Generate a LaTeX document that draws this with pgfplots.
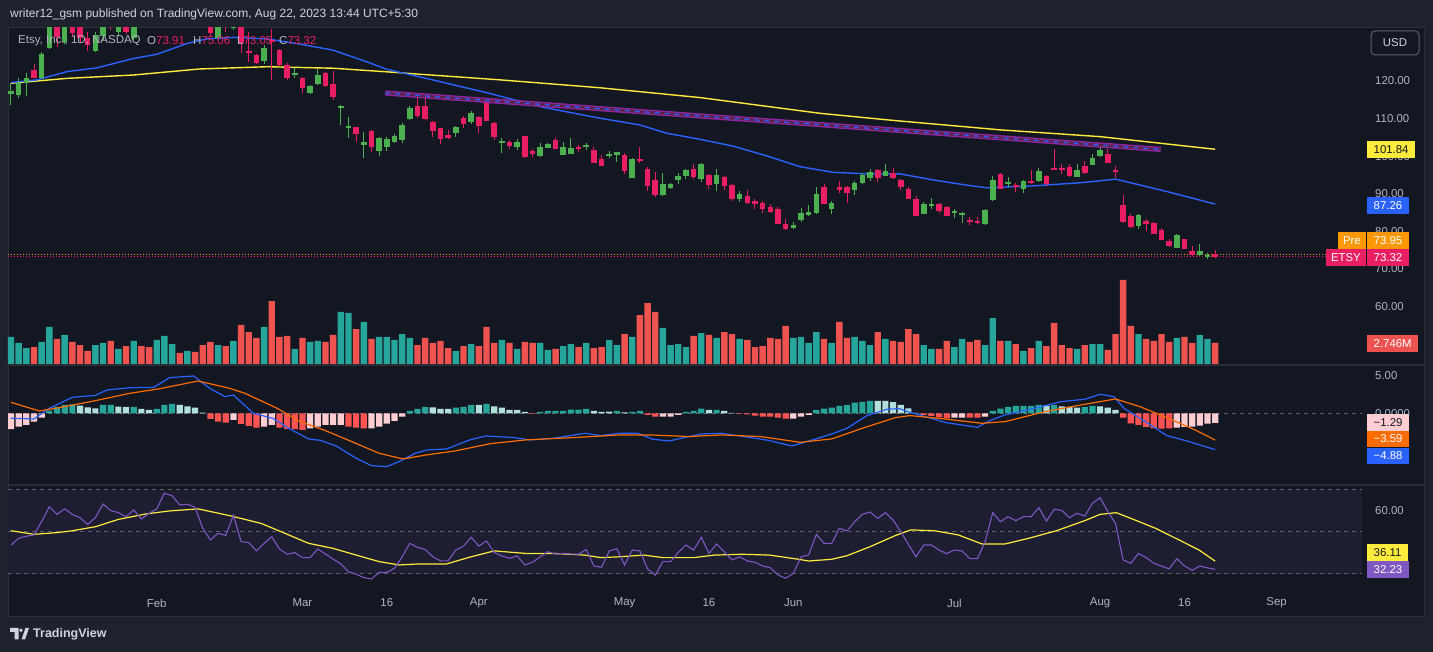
\documentclass[border=0pt]{standalone}
\usepackage{fontspec}
\setmainfont{Liberation Sans}
\usepackage{pgfplots}
\usepackage{pgfplotstable}
\pgfplotsset{compat=1.18}
\definecolor{bgout}{HTML}{1E222D}
\definecolor{bgin}{HTML}{131722}
\definecolor{sepc}{HTML}{2A2E39}
\definecolor{txt}{HTML}{B2B5BE}
\definecolor{head}{HTML}{D1D4DC}
\definecolor{cup}{HTML}{4CAF50}
\definecolor{cdn}{HTML}{E91E63}
\definecolor{vup}{HTML}{26A69A}
\definecolor{vdn}{HTML}{EF5350}
\definecolor{hup}{HTML}{26A69A}
\definecolor{hupl}{HTML}{B2DFDB}
\definecolor{hdn}{HTML}{FF5252}
\definecolor{hdnl}{HTML}{FFCDD2}
\definecolor{mline}{HTML}{2962FF}
\definecolor{sline}{HTML}{FF6D00}
\definecolor{rsil}{HTML}{7E57C2}
\definecolor{yel}{HTML}{FFEB3B}
\definecolor{band}{HTML}{1E1E32}
\definecolor{dashc}{HTML}{5D606B}
\definecolor{prec}{HTML}{FF9800}
\definecolor{trendp}{HTML}{9C27B0}
\definecolor{trendm}{HTML}{5B2340}
\newcommand{\tvf}{\fontsize{11.4}{13}\selectfont}

\pgfplotstableread{
x o h l c v
0 116.5 119.4 113.6 117.3 3.53
1 116.3 120.8 115.5 119.6 2.75
2 119.4 122.1 116.1 120.9 2.09
4 120.9 127.8 120.5 127.2 2.88
5 128.7 137 128.5 135 4.84
7 130.5 137 129.8 136 3.79
11 128 133 127.8 132.2 2.48
12 132 137 131 135 2.75
14 133 137 132 136 1.96
16 131.5 138 131 137 3.01
19 138 142 137.5 141 3.14
20 141 147 140 146 3.66
21 145 148 144 147 2.61
23 145 147.5 144 146.5 1.70
27 131.4 136 130.8 135 2.48
29 134 136 133.5 135.5 3.01
33 125.3 129.6 124.5 128.9 4.84
37 121.6 123.5 120.7 122 1.96
39 116.9 119 116.5 118.7 2.88
40 119.2 123.2 119 121.6 3.01
43 112.8 113.6 108.3 113.4 6.80
44 107.6 110.5 104.8 108 6.67
46 103 106.5 99.4 103.9 5.49
48 101.4 105 100.1 104.8 3.53
49 102.5 105.2 101.5 104.5 3.53
50 103.9 106 103.5 105.4 3.14
51 104.3 108.9 103.5 108.3 3.92
52 109.9 113.3 109.6 112.9 3.40
58 106.2 108 105.2 107.8 1.70
60 109.1 112 108.5 111.6 2.61
64 103.8 104.8 100.9 104 3.14
66 102.4 104.6 101.7 103.9 1.96
69 100 103.4 99.7 102.5 2.75
70 102.3 103.4 102.2 103.2 1.83
72 100.3 103.7 100.2 102.5 2.35
73 100.6 104.9 100.5 102.3 2.61
75 102.5 103.4 101.6 103 2.75
78 100 101.4 99.6 100.6 3.14
79 100.3 101.2 98.5 101.1 2.48
81 94.3 99.6 94.2 99.3 3.53
85 89.7 95.5 89.5 92.6 4.71
86 91.6 93 91.3 92.6 2.48
87 93.7 95.5 92.6 94.7 2.61
88 94.7 96.6 94 96.3 2.22
90 93.9 98.2 93.2 97.9 4.05
92 92.5 96.6 90.8 95 3.40
95 88.6 90.8 87.9 89.9 3.27
102 80.9 82.5 80.6 81.7 3.40
103 83 86.2 82.5 84.9 3.53
104 84.4 87 84.2 85.2 2.75
105 84.9 91.8 84.7 89.9 4.18
107 86 88 84.6 87.6 2.75
110 91 93.4 89.7 92.9 3.53
111 92.9 95.6 92.6 95 3.01
112 94.2 96.7 93.4 95.8 2.48
114 94.7 97.9 94.6 96.1 3.27
119 84.6 87.8 84.5 87.3 2.48
120 86.8 88.9 86 87.3 1.96
123 85 86 83.6 85.3 2.22
124 84.4 85.2 82.2 84.9 3.27
127 82 85.9 81.6 85.7 2.48
128 88.4 94.7 88.2 93.7 6.01
130 92.6 94.4 91.9 93.1 3.01
132 91.3 93.6 90.2 93.4 1.70
134 93.4 96.9 93.2 96.1 3.01
139 94.5 97.9 94.4 96.3 1.96
141 97.7 100.6 97.6 99.5 2.61
142 100 102.7 99.8 101.6 2.61
147 81.4 84.6 80.6 84.4 3.92
152 75.6 79.3 75.5 79 3.40
155 73.7 76.6 73.5 74.8 3.79
156 73.3 74.2 72.6 73.6 3.27
}\candup

\pgfplotstableread{
x o h l c v
3 122.9 124.4 120.7 120.9 2.22
6 134.5 136 129 131.8 3.27
8 136 137 132 132.7 2.88
9 135 136 130 131.4 2.48
10 131.5 133 128 129.5 1.70
13 137 138 133.5 134.5 3.01
15 138 140 132.5 133 2.35
17 140 141 136 137 2.35
18 139 141 137 138 2.22
22 147 148 145 145.5 1.44
24 146 147 143 143.5 1.57
25 143 144 139 139.5 2.48
26 138 139 132 132.7 2.88
28 135 136 133 134.5 2.35
30 135 135.5 127.4 130 5.10
31 128 133 125.1 127.5 4.18
32 126.9 127.2 124.5 124.8 3.40
34 131 133.8 120.3 130.5 8.23
35 128.2 128.5 124 124.3 3.53
36 124.3 124.8 120.3 120.7 3.66
38 120.9 121.1 116.7 118.2 3.40
41 122.2 122.5 118.5 118.7 2.88
42 119.1 122.7 115 115.8 3.79
45 107.7 107.8 103.9 105.8 4.57
47 106.7 107 101.2 102.5 3.27
53 113.4 115.8 110.1 110.7 2.48
54 113.4 116.3 109.6 109.9 3.40
55 109.2 109.4 105.2 106.8 2.75
56 107.4 107.6 103.2 104.6 3.01
57 105.6 107 104.7 104.9 2.09
59 110.2 110.8 107.5 108.5 2.35
61 110.5 110.8 106.1 108 2.35
62 114.9 115.5 109.3 109.4 4.84
63 108.8 109 104.3 105.2 2.75
65 103.9 104.2 101.9 102.8 2.75
67 105.4 105.5 99.6 99.9 2.88
68 101.5 101.9 99.9 100.6 2.75
71 104.3 104.8 101.8 101.9 1.96
74 102.5 103 101.2 101.9 2.22
76 101.6 102.5 98.2 98.3 2.09
77 99.3 100.3 97.4 97.5 2.22
80 100.3 100.8 95.3 96.1 3.92
82 99.3 102.5 98.1 98.7 6.40
83 96.6 97 90.7 92.1 7.97
84 93.7 95.8 89.2 89.7 6.80
89 96.6 97.9 93.9 94.5 3.66
91 95 95.2 91.3 92.3 3.79
93 94.5 94.8 91 92.1 4.18
94 92.3 92.5 88.1 88.6 3.92
96 89.4 91 87.4 87.6 3.14
97 88.1 88.6 86 87.3 2.22
98 87.6 88 84.9 86 2.35
99 86.5 87.3 84.9 85.2 3.40
100 86 86.5 81.9 82 3.27
101 82 83.3 80.3 80.6 4.97
106 91.8 92.6 87.2 87.3 3.27
108 91.8 93.4 90.2 91 5.49
109 91.8 92 87.6 90.2 3.40
113 96.3 96.6 93.1 94.2 4.18
115 95.5 96.9 93.9 94.2 3.01
116 93.7 94 91 91.8 2.88
117 91.3 91.8 88.5 88.6 4.57
118 88.6 89.4 84 84.1 3.92
121 87.3 87.5 85 85.4 1.96
122 86.5 86.8 84 84.1 3.01
125 83 83.9 81.8 82.7 2.88
126 82.8 83.9 82 82.2 3.14
129 95.3 95.4 91.2 91.3 3.01
131 92.3 92.9 90.4 91.8 2.61
133 93.4 96.3 92.7 92.9 2.09
135 94.7 95 92 92.6 2.35
136 96.9 101.9 96.2 96.3 5.36
137 96.8 97.9 95.3 96.5 2.48
138 97.1 97.9 94.5 94.7 2.09
140 97.4 98.7 95.2 95.5 2.48
143 100.6 102 98.1 98.2 1.83
144 96.3 97.4 94.2 95.8 3.92
145 87 89.7 82.2 82.5 10.98
146 84.1 84.6 80.9 81.2 4.97
148 82.8 83.3 80.1 82 3.27
149 82.2 82.5 79.2 79.3 3.01
150 80.4 81 77.6 77.7 3.92
151 77.4 78 75.8 76.1 2.88
153 78 78 75.2 75.3 3.53
154 74.8 76.1 73.5 73.7 2.75
157 73.91 75.06 73.05 73.32 2.746
}\canddn

\pgfplotstableread{
x y
5 0.36
6 0.85
7 1.12
8 1.21
12 1.12
13 1.12
16 0.85
19 0.58
20 1.12
21 1.25
52 0.31
53 0.58
54 0.85
58 0.76
59 0.85
60 1.12
62 1.25
69 0.18
70 0.31
71 0.31
72 0.31
73 0.49
74 0.49
75 0.58
79 0.31
81 0.18
82 0.31
88 0.18
89 0.31
90 0.63
92 0.45
105 0.45
106 0.63
107 0.76
108 0.98
109 1.12
110 1.43
111 1.52
112 1.65
128 0.31
129 0.63
130 0.85
131 0.98
132 0.98
133 0.98
134 1.12
136 1.12
140 0.85
141 0.98
}\histup

\pgfplotstableread{
x y
9 1.03
10 0.8
11 0.67
14 0.89
15 0.85
17 0.58
18 0.45
22 1.12
23 0.94
24 0.76
25 0.09
55 0.8
56 0.58
57 0.58
61 1.12
63 0.94
64 0.76
65 0.45
66 0.45
67 0.18
76 0.31
77 0.18
78 0.22
80 0.13
91 0.45
93 0.31
94 0.04
113 1.65
114 1.65
115 1.48
116 1.12
117 0.67
118 0.04
135 1.03
137 0.94
138 0.85
139 0.76
142 0.94
143 0.76
144 0.45
}\histupl

\pgfplotstableread{
x y
26 -0.76
27 -1.12
28 -1.25
30 -1.43
31 -1.7
32 -1.92
35 -1.92
36 -2.1
37 -2.14
38 -2.23
44 -1.79
45 -1.92
46 -2.01
68 -0.09
83 -0.22
84 -0.45
95 -0.09
96 -0.13
97 -0.31
98 -0.45
99 -0.45
100 -0.58
101 -0.72
119 -0.22
120 -0.36
121 -0.54
122 -0.67
125 -0.58
126 -0.58
145 -0.58
146 -1.34
147 -1.56
148 -1.83
149 -2.01
150 -2.06
151 -2.01
}\histdn

\pgfplotstableread{
x y
0 -2.14
1 -1.79
2 -1.56
3 -1.12
4 -0.58
29 -0.89
33 -1.79
34 -1.56
39 -2.01
40 -1.79
41 -1.56
42 -1.56
43 -1.56
47 -2.01
48 -1.79
49 -1.39
50 -1.03
51 -0.45
85 -0.45
86 -0.45
87 -0.22
102 -0.72
103 -0.45
104 -0.22
123 -0.58
124 -0.58
127 -0.45
152 -1.92
153 -1.83
154 -1.79
155 -1.65
156 -1.39
157 -1.29
}\histdnl

\pgfplotstableread{
x r
0 43.8
1 47
2 48
3 48.6
4 55
5 62
6 58.4
7 61
8 58.4
9 56.8
10 53.6
11 56.8
12 63.3
13 60.2
14 59.2
15 57.3
16 60.5
17 56.2
18 58.9
19 61
20 68.4
21 67.3
22 62.9
23 63.2
24 61.8
25 51.8
26 46.2
27 49.4
28 48.3
29 58
30 45.4
31 45
32 41
33 44.6
34 47.8
35 41.9
36 39.4
37 40.2
38 37.8
39 37.8
40 41.9
41 39.5
42 37.1
43 34.8
44 31.1
45 29.9
46 28.3
47 27.6
48 30.8
49 30.8
50 32.7
51 38.2
52 44.6
53 42.7
54 41.7
55 38.2
56 36.2
57 36.3
58 41.4
59 43.3
60 47.5
61 43.3
62 45.7
63 40.2
64 38.6
65 37.5
66 38.6
67 34.3
68 35.6
69 38.2
70 40.6
71 39.5
72 39.8
73 39.5
74 39.4
75 41.7
76 33.8
77 33.2
78 41
79 42
80 34.3
81 41.4
82 41
83 32.4
84 29.5
85 35.9
86 35.9
87 40.3
88 43.8
89 41.4
90 47.5
91 39.8
92 44.3
93 40.6
94 36.7
95 38.2
96 36.2
97 35.6
98 33.8
99 33
100 29.5
101 28
102 30.3
103 38.2
104 39
105 48.9
106 44.6
107 44.6
108 51.8
109 50.5
110 54.9
111 58.4
112 59.5
113 56.5
114 59.2
115 55.7
116 50.2
117 44.1
118 38.2
119 43.8
120 43.8
121 41.4
122 39.7
123 41.4
124 41
125 37.3
126 37.3
127 45.3
128 59.2
129 54.9
130 57.3
131 55.4
132 57.3
133 57.3
134 61.6
135 55.2
136 60.8
137 60.3
138 56.8
139 58.9
140 57.6
141 63.7
142 66.3
143 59.7
144 54.1
145 36.7
146 35.1
147 39.8
148 37.8
149 35.1
150 33.8
151 32.4
152 37.3
153 33.8
154 31.8
155 33.8
156 32.9
157 32.23
}\rsitab

\pgfplotsset{
  tvpane/.style={scale only axis, anchor=south west, width=1354pt,
    xmin=-0.39, xmax=176.14, axis line style={draw=none},
    major tick length=0pt, xtick=\empty, ytick=\empty,
    yticklabel pos=right,
    yticklabel style={text=txt, font=\tvf, anchor=west, inner sep=0pt, xshift=13pt}},
  wick/.style={draw=none, mark=none, error bars/.cd, y dir=both, y explicit,
    error mark=none, error bar style={draw=#1, solid, line width=1pt}},
  body/.style={draw=none, mark=none, error bars/.cd, y dir=both, y explicit,
    error mark=none, error bar style={draw=#1, solid, line width=5.6pt}}
}
\tikzset{tvbox/.style={anchor=west, inner xsep=6.5pt, inner ysep=0pt, minimum height=16.5pt, font=\tvf, text depth=0pt}}

\begin{document}
\begin{tikzpicture}
\begin{scope}[x=1pt,y=1pt]
\fill[bgout] (0,0) rectangle (1433,652);
\fill[bgin] (8,35) rectangle (1425,625);
\draw[sepc, line width=1pt] (8.5,35.5) rectangle (1424.5,624.5);
\draw[sepc, line width=1.2pt] (8,287) -- (1425,287);
\draw[sepc, line width=1.2pt] (8,167) -- (1425,167);
\end{scope}

% volume
\begin{axis}[tvpane, at={(8pt,288pt)}, height=336pt, ymin=0, ymax=43.92]
\addplot[ybar, bar width=6.4pt, bar shift=0pt, fill=vup, draw=none] table[x=x, y=v] {\candup};
\addplot[ybar, bar width=6.4pt, bar shift=0pt, fill=vdn, draw=none] table[x=x, y=v] {\canddn};
\end{axis}

% price
\begin{axis}[tvpane, at={(8pt,288pt)}, height=336pt, ymin=44.73, ymax=134.1,
  ytick={60,70,80,90,100,110,120},
  yticklabels={60.00,70.00,80.00,90.00,100.00,110.00,120.00}]
\addplot[prec, line width=1pt, dash pattern=on 1pt off 2pt] coordinates {(-0.39,73.95) (176.14,73.95)};
\addplot[cdn, line width=1pt, dash pattern=on 1pt off 2pt] coordinates {(-0.39,73.32) (176.14,73.32)};
\addplot[yel, line width=1.4pt] coordinates {(0,119.4) (7.3,120.7) (16,121.6) (24.6,123.2) (33.4,123.8) (42,123.4) (50.7,122.2) (53.3,121.8) (63.8,120.3) (76.8,118.2) (89.8,115.6) (105.5,111.4) (114.6,109.6) (129,107) (142,105.2) (157,101.84)};
\addplot[mline, line width=1.4pt] coordinates {(0,119.6) (3.4,120.3) (7.3,122.5) (11.2,123.5) (16,126) (19,127.1) (23,130) (25.5,131.2) (29,131.6) (33.4,131.2) (37.7,129.8) (42,128.2) (46.4,125.1) (49,123.1) (53.5,121) (62,116.9) (69.4,113) (76.8,110.1) (82,108.3) (85.5,106.1) (89.8,104.5) (94.1,102.7) (98.5,100.1) (102.9,97.2) (107.2,95.7) (111.6,95.3) (115.9,95.3) (120.2,93.7) (124.6,92.3) (127.2,91.6) (133.2,92.1) (139.8,93) (144,93.9) (150.7,90.6) (157,87.26)};
\addplot[wick=cup] table[x=x, y expr={(\thisrow{h}+\thisrow{l})/2}, y error expr={(\thisrow{h}-\thisrow{l})/2}] {\candup};
\addplot[wick=cdn] table[x=x, y expr={(\thisrow{h}+\thisrow{l})/2}, y error expr={(\thisrow{h}-\thisrow{l})/2}] {\canddn};
\addplot[body=cup] table[x=x, y expr={(\thisrow{o}+\thisrow{c})/2}, y error expr={max(abs(\thisrow{c}-\thisrow{o})/2,0.14)}] {\candup};
\addplot[body=cdn] table[x=x, y expr={(\thisrow{o}+\thisrow{c})/2}, y error expr={max(abs(\thisrow{c}-\thisrow{o})/2,0.14)}] {\canddn};
\addplot[trendp, opacity=0.9, line width=5.2pt] coordinates {(48.8,116.8) (149.9,101.8)};
\addplot[trendm, line width=2.4pt] coordinates {(48.8,116.8) (149.9,101.8)};
\addplot[mline, line width=1.3pt, dash pattern=on 5pt off 5pt] coordinates {(48.8,116.8) (149.9,101.8)};
\end{axis}

% MACD
\begin{axis}[tvpane, at={(8pt,168pt)}, height=118pt, ymin=-9.48, ymax=6.34,
  ytick={0,5}, yticklabels={0.0000,5.00}]
\addplot[dashc, line width=1pt, dash pattern=on 4pt off 4pt] coordinates {(-0.39,0) (176.14,0)};
\addplot[ybar, bar width=6.2pt, bar shift=0pt, fill=hup, draw=none] table[x=x,y=y] {\histup};
\addplot[ybar, bar width=6.2pt, bar shift=0pt, fill=hupl, draw=none] table[x=x,y=y] {\histupl};
\addplot[ybar, bar width=6.2pt, bar shift=0pt, fill=hdn, draw=none] table[x=x,y=y] {\histdn};
\addplot[ybar, bar width=6.2pt, bar shift=0pt, fill=hdnl, draw=none] table[x=x,y=y] {\histdnl};
\addplot[mline, line width=1.2pt] coordinates {(0,-0.67) (3,-0.76) (5,0.67) (8,2.14) (11,2.4) (12.5,3.12) (15.5,3.43) (18.6,3.47) (20.7,4.78) (23.8,5.0) (25.9,3.35) (27.9,2.23) (29,2.45) (31.6,0) (34.1,-0.67) (36.2,-2.01) (38.8,-3.44) (40.3,-3.62) (42.4,-4.38) (45,-6.03) (47,-7.02) (49,-7.15) (50.6,-6.48) (52.7,-5.36) (54.2,-4.92) (56.8,-4.78) (59.8,-3.57) (61.9,-3.04) (65.6,-3.26) (67.7,-3.57) (70.7,-3.35) (74.8,-2.68) (76.9,-2.99) (79.4,-2.68) (81.7,-2.68) (83.7,-3.48) (85.8,-3.71) (90,-2.77) (92.6,-2.68) (95,-3.04) (98.7,-3.62) (101.8,-4.38) (104.5,-3.57) (107,-2.77) (109,-2.01) (111.6,-0.31) (114.2,0.54) (115.8,0.63) (117.2,0.13) (121.9,-1.25) (126,-1.88) (127.5,-1.03) (129.6,-0.22) (133.8,0.76) (136.9,1.56) (140,1.88) (142,2.55) (143.8,2.23) (145.1,0.67) (147.2,-0.67) (150.7,-2.99) (153.3,-3.71) (157,-4.88)};
\addplot[sline, line width=1.2pt] coordinates {(0,1.47) (3.7,0.31) (6.3,0.76) (11,1.69) (15.5,2.68) (19.2,3.26) (24.4,4.33) (28.5,3.35) (30.5,2.68) (34.7,0.67) (37.7,-1.12) (40.8,-2.24) (43.9,-3.57) (48,-5.36) (51.1,-6.12) (54.2,-5.58) (57.9,-5.05) (62.5,-4.07) (67.1,-3.57) (73.3,-3.26) (79.4,-2.9) (83.3,-2.9) (88.4,-3.12) (92.6,-2.9) (97.7,-3.12) (102.9,-3.89) (107,-3.44) (111,-2.01) (115.3,-0.58) (117.2,-0.31) (120.9,-0.67) (126.6,-1.34) (129.6,-1.12) (134.8,0.22) (140,1.21) (144,1.92) (147.2,0.89) (151.2,-0.81) (154.4,-2.24) (157,-3.59)};
\end{axis}

% RSI
\begin{axis}[tvpane, at={(8pt,62pt)}, height=103pt, ymin=22.38, ymax=71.43,
  ytick={60}, yticklabels={60.00},
  xtick={19,38,49,61,80,91,102,123,142,153,165},
  xticklabels={Feb,Mar,16,Apr,May,16,Jun,Jul,Aug,16,Sep},
  xticklabel style={text=txt, font=\tvf, anchor=center, inner sep=0pt, yshift=-13pt}]
\addplot[fill=band, draw=none] coordinates {(-0.39,30) (176.14,30) (176.14,70) (-0.39,70)} -- cycle;
\addplot[dashc, line width=1pt, dash pattern=on 4pt off 4pt] coordinates {(-0.39,70) (176.14,70)};
\addplot[dashc, line width=1pt, dash pattern=on 4pt off 4pt] coordinates {(-0.39,50) (176.14,50)};
\addplot[dashc, line width=1pt, dash pattern=on 4pt off 4pt] coordinates {(-0.39,30) (176.14,30)};
\addplot[yel, line width=1.2pt] coordinates {(0,50.6) (3,48.9) (6,49.7) (8,50.6) (11,52.5) (14,56) (17.6,58.6) (20.6,60) (24.4,61) (28.5,57.8) (32.6,54.1) (35.7,49.4) (38.8,44.6) (42,42.2) (45,39) (48,35.9) (50.6,34.3) (53.2,34.8) (56.8,34.8) (59.8,38) (63,41) (67.1,39.8) (70.7,39.8) (74.8,39) (76.9,37.8) (79.4,38.2) (82.5,39) (85,37.8) (89,37.8) (91.7,39) (95.3,39.4) (98.9,39) (102.5,37.1) (104,36.2) (107,37) (109,38.7) (112,43) (115.3,48.3) (117.3,51) (120.4,50.6) (123.5,48.6) (126.6,44.3) (129.6,44.3) (132.7,47) (136.3,50.6) (140,55.4) (142,58.4) (144.1,59.2) (146.2,56.2) (149.2,51.8) (152.3,46.2) (154.9,41.4) (157,36.11)};
\addplot[rsil, line width=1.1pt] table[x=x, y=r] {\rsitab};
\end{axis}

\begin{scope}[x=1pt,y=1pt]
% header and legend
\node[anchor=west, inner sep=0pt, text=head, font=\fontsize{12}{14}\selectfont] at (10,638) {writer12\_gsm published on TradingView.com, Aug 22, 2023 13:44 UTC+5:30};
\begin{scope}[every node/.style={anchor=west, inner sep=0pt, font=\fontsize{11.5}{14}\selectfont}]
\node[text=txt] at (18,611) {Etsy, Inc., 1D, NASDAQ};
\node at (147,611) {\textcolor{txt}{O}\textcolor{cdn}{73.91}};
\node at (193,611) {\textcolor{txt}{H}\textcolor{cdn}{75.06}};
\node at (237,611) {\textcolor{txt}{L}\textcolor{cdn}{73.05}};
\node at (279,611) {\textcolor{txt}{C}\textcolor{cdn}{73.32}};
\end{scope}

% right-side boxes
\draw[draw=dashc, line width=1pt, rounded corners=4pt, fill=bgin] (1371,597) rectangle (1419,621);
\node[text=head, font=\tvf] at (1395,609) {USD};
\node[tvbox, fill=yel, text=bgin] at (1367,502.5) {101.84};
\node[tvbox, fill=mline, text=white] at (1367,446.5) {87.26};
\node[tvbox, fill=prec, text=white, anchor=east, inner xsep=5pt] at (1366,411.5) {Pre};
\node[tvbox, fill=prec, text=white] at (1367,411.5) {73.95};
\node[tvbox, fill=cdn, text=white, anchor=east, inner xsep=5pt] at (1366,394.5) {ETSY};
\node[tvbox, fill=cdn, text=white] at (1367,394.5) {73.32};
\node[tvbox, fill=vdn, text=white] at (1367,308.5) {2.746M};
\node[tvbox, fill=hdnl, text=bgin] at (1367,229.5) {−1.29};
\node[tvbox, fill=sline, text=white] at (1367,213) {−3.59};
\node[tvbox, fill=mline, text=white] at (1367,196) {−4.88};
\node[tvbox, fill=yel, text=bgin] at (1367,99.5) {36.11};
\node[tvbox, fill=rsil, text=white] at (1367,82.5) {32.23};

% footer
\fill[head] (10,24) -- (18.5,24) -- (18.5,12.5) -- (14.5,12.5) -- (14.5,20) -- (10,20) -- cycle;
\fill[head] (21,21.8) circle (1.9);
\fill[head] (21.5,12.5) -- (25.5,24) -- (29,24) -- (25,12.5) -- cycle;
\node[anchor=west, inner sep=0pt, text=head, font=\fontsize{12.5}{14}\selectfont\bfseries] at (33,18) {TradingView};
\end{scope}
\end{tikzpicture}
\end{document}
